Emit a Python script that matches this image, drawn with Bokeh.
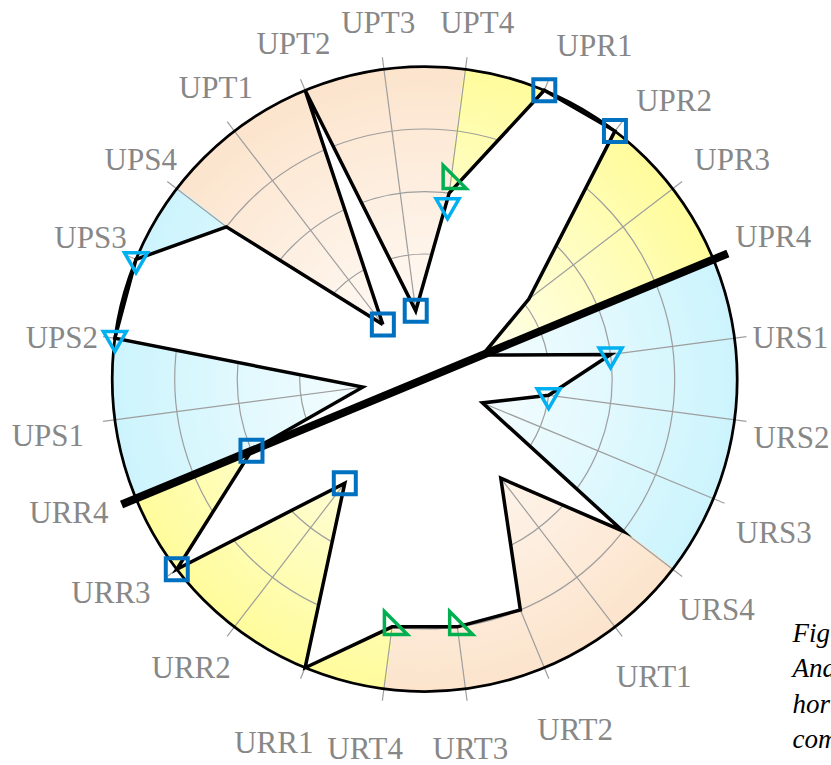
import math
from bokeh.plotting import figure
from bokeh.models import Range1d, ColumnDataSource
from bokeh.core.properties import value
from bokeh.embed import file_html
from bokeh.resources import INLINE

# ---------------- data ----------------
categories = ["UPT1", "UPT2", "UPT3", "UPT4", "UPR1", "UPR2", "UPR3", "UPR4",
              "URS1", "URS2", "URS3", "URS4", "URT1", "URT2", "URT3", "URT4",
              "URR1", "URR2", "URR3", "URR4", "UPS1", "UPS2", "UPS3", "UPS4"]
values = [1.1, 5, 1.1, 3, 5, 5, 2.1, 1,
          3, 2, 1, 4, 2, 4, 4, 4,
          5, 2.1, 5, 3, 1, 5, 5, 4]

square_cats = ["UPT1", "UPT3", "UPR1", "UPR2", "URR2", "URR3", "URR4"]
square_vals = [1.1, 1.1, 5, 5, 2.1, 5, 3]
down_tri_cats = ["UPT4", "URS1", "URS2", "UPS2", "UPS3"]
down_tri_vals = [2.8, 3, 2, 5, 5]
right_tri_cats = ["UPT4", "URT3", "URT4"]
right_tri_vals = [3.2, 4, 4]

groups = ["UPT", "UPR", "URS", "URT", "URR", "UPS"]
group_colors = [(252, 228, 204), (255, 252, 156), (204, 244, 253),
                (252, 228, 204), (255, 252, 156), (204, 244, 253)]

ring_values = [1, 2, 3, 4]
r_max = 5
axis_category = "UPR4"
axis_extent = 5.25

caption_lines = ["Fig", "And", "hor", "com"]

# ---------------- layout ----------------
W, H = 831, 765
PX = 62.5              # pixels per value unit
CX, CY = 424.2, 378.5  # canvas pixel of the pole
STEP = 360.0 / len(categories)
FIRST = -37.5          # compass angle of the first category
# per-label fine placement (pixels, right / down) around the label ring
label_nudge_px = [(13, -2), (8, 1), (1, 4), (5, 5), (30, 4), (26, 13),
                  (15, 5), (6, -1), (-4, 7), (-5, 10), (1, 9), (-8, 0),
                  (-2, -4), (5, -1), (-4, -7), (-10, -7), (-6, 14), (-4, -11),
                  (-16, -15), (-11, -9), (-9, 8), (3, 7), (5, -1), (6, 3)]


def ang(i):
    return math.radians(FIRST + STEP * i)


def pol(r, th):
    return r * math.sin(th), r * math.cos(th)


idx = {c: i for i, c in enumerate(categories)}

p = figure(width=W, height=H, x_range=Range1d(-CX / PX, (W - CX) / PX),
           y_range=Range1d(-(H - CY) / PX, CY / PX),
           output_backend="svg", toolbar_location=None, title=None,
           x_axis_location=None, y_axis_location=None, min_border=0,
           outline_line_color=None, background_fill_color="white",
           border_fill_color="white")
for g in p.grid:
    g.visible = False

# ---------------- gradient bands ----------------
N = 48
bx, by, brad, bs, be, bcol = [], [], [], [], [], []
for g, col in zip(groups, group_colors):
    members = [i for i, c in enumerate(categories) if c.startswith(g)]
    th_s = math.degrees(ang(members[0])) - STEP
    th_e = math.degrees(ang(members[-1]))
    a0 = math.radians(90 - th_e) - 0.004
    a1 = math.radians(90 - th_s) + 0.004
    for k in range(N, 0, -1):
        t = (k - 0.5) / N
        rgb = tuple(int(round(255 * (1 - t) + c * t)) for c in col)
        bx.append(0); by.append(0)
        brad.append(r_max * k / N)
        bs.append(a0); be.append(a1)
        bcol.append("#%02x%02x%02x" % rgb)
p.wedge(x="x", y="y", radius="r", start_angle="s", end_angle="e",
        fill_color="c", line_color=None,
        source=ColumnDataSource(dict(x=bx, y=by, r=brad, s=bs, e=be, c=bcol)))

# ---------------- grid ----------------
GRID = "#9e9e9e"
p.circle(x=[0] * len(ring_values), y=[0] * len(ring_values), radius=ring_values,
         fill_color=None, line_color=GRID, line_width=1.2)
tick_r = r_max + 12 / PX
gx = [pol(tick_r, ang(i))[0] for i in range(len(categories))]
gy = [pol(tick_r, ang(i))[1] for i in range(len(categories))]
p.segment(x0=[0] * len(gx), y0=[0] * len(gy), x1=gx, y1=gy,
          line_color=GRID, line_width=1.2)

# ---------------- data polygon ----------------
px_ = [pol(v, ang(i))[0] for i, v in enumerate(values)]
py_ = [pol(v, ang(i))[1] for i, v in enumerate(values)]
p.patch(px_, py_, fill_color="white", line_color=None)
p.line(px_ + [px_[0]], py_ + [py_[0]], line_color="black", line_width=3.5,
       line_join="miter")

# rim
p.circle(x=[0], y=[0], radius=[r_max], fill_color=None, line_color="black",
         line_width=2.75)

# thick axis line
tha = ang(idx[axis_category])
ex, ey = pol(axis_extent, tha)
p.line([-ex, ex], [-ey, ey], line_color="black", line_width=8, line_cap="butt")

# ---------------- markers ----------------
sx = [pol(v, ang(idx[c]))[0] for c, v in zip(square_cats, square_vals)]
sy = [pol(v, ang(idx[c]))[1] for c, v in zip(square_cats, square_vals)]
p.scatter(sx, sy, marker="square", size=22, fill_color=None,
          line_color="#0070C0", line_width=4, line_join="miter")

tx = [pol(v, ang(idx[c]))[0] for c, v in zip(down_tri_cats, down_tri_vals)]
ty = [pol(v, ang(idx[c]))[1] for c, v in zip(down_tri_cats, down_tri_vals)]
p.scatter(tx, ty, marker="inverted_triangle", size=23, fill_color=None,
          line_color="#00B0F0", line_width=3.5, line_join="miter")

L = 23 / PX  # leg of right-angle marker
rxs, rys = [], []
for c, v in zip(right_tri_cats, right_tri_vals):
    cx, cy = pol(v, ang(idx[c]))
    rxs.append([cx - L / 3, cx - L / 3, cx + 2 * L / 3])
    rys.append([cy + 2 * L / 3, cy - L / 3, cy - L / 3])
p.patches(rxs, rys, fill_color=None, line_color="#00B050", line_width=3.5,
          line_join="miter")

# ---------------- category labels ----------------
lx, ly = [], []
for i in range(len(categories)):
    th = ang(i)
    rl = (372 - 8 * math.cos(th) + 2 * math.sin(th)) / PX
    x, y = pol(rl, th)
    nx, ny = label_nudge_px[i]
    lx.append(x + nx / PX); ly.append(y - ny / PX)
p.text(lx, ly, text=categories, text_font=value("Liberation Serif"),
       text_font_size="31px", text_color="#878787", text_align="center",
       text_baseline="middle")

# ---------------- cut-off caption ----------------
cap_x = (792 - CX) / PX
cap_y = [(CY - (632 + 35.5 * k)) / PX for k in range(len(caption_lines))]
p.text([cap_x] * len(caption_lines), cap_y, text=caption_lines,
       text_font=value("Liberation Serif"), text_font_style="italic",
       text_font_size="27px", text_color="black", text_align="left",
       text_baseline="alphabetic")

open("out.html", "w").write(file_html(p, INLINE))
